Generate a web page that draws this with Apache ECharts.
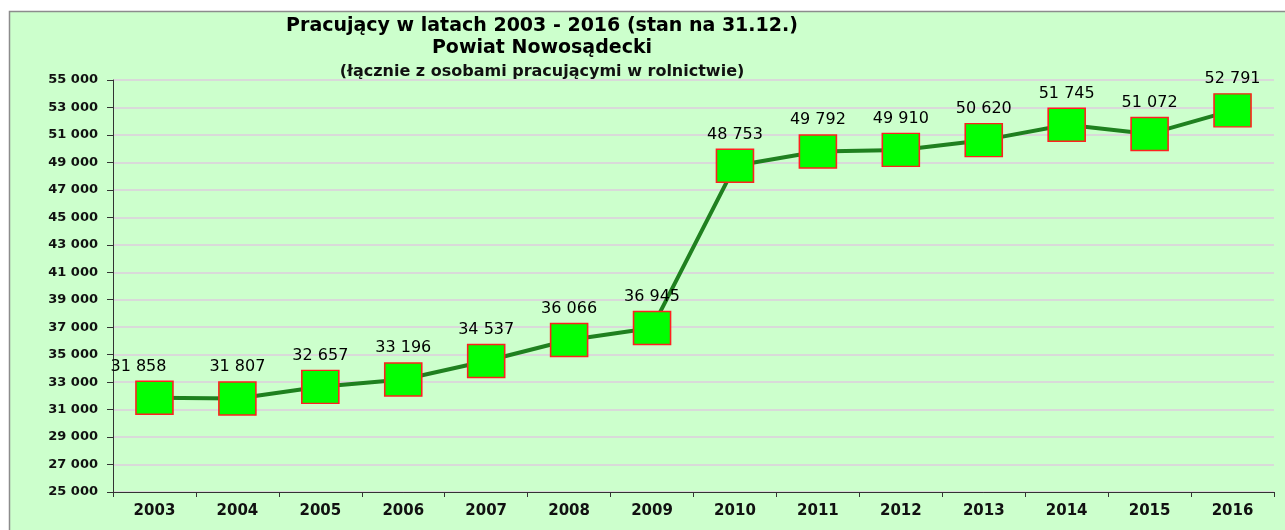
<!DOCTYPE html>
<html>
<head>
<meta charset="utf-8">
<title>Pracujący w latach 2003 - 2016</title>
<script src="https://cdn.jsdelivr.net/npm/echarts@6/dist/echarts.min.js"></script>
<style>
  html, body { margin: 0; padding: 0; background: #fff; }
  #main { width: 1285px; height: 530px; }
</style>
</head>
<body>
<div id="main"></div>
<script>
// data
const years = ['2003', '2004', '2005', '2006', '2007', '2008', '2009',
  '2010', '2011', '2012', '2013', '2014', '2015', '2016'];
const workers = [31858, 31807, 32657, 33196, 34537, 36066, 36945,
  48753, 49792, 49910, 50620, 51745, 51072, 52791];
const yMin = 25000;
const yMax = 55000;
const yStep = 2000;

const FONT = '"DejaVu Sans", Arial, sans-serif';

// "31 858" style numbers
function fmt(v) {
  return String(v).replace(/\B(?=(\d{3})+(?!\d))/g, ' ');
}

const chart = echarts.init(document.getElementById('main'));

chart.setOption({
  backgroundColor: '#ffffff',
  animation: false,
  graphic: [
    {
      type: 'rect',
      z: -10,
      shape: { x: 9.5, y: 11.5, width: 1290, height: 530 },
      style: { fill: '#ccffcc', stroke: '#8c8c8c', lineWidth: 1.5 }
    }
  ],
  title: [
    {
      text: 'Pracujący w latach 2003 - 2016 (stan na 31.12.)',
      left: 537, top: 12, textAlign: 'center',
      textStyle: { fontFamily: FONT, fontSize: 19, fontWeight: 'bold', color: '#000' }
    },
    {
      text: 'Powiat Nowosądecki',
      left: 537, top: 34, textAlign: 'center',
      textStyle: { fontFamily: FONT, fontSize: 19, fontWeight: 'bold', color: '#000' }
    },
    {
      text: '(łącznie z osobami pracującymi w rolnictwie)',
      left: 537, top: 59, textAlign: 'center',
      textStyle: { fontFamily: FONT, fontSize: 16, fontWeight: 'bold', color: '#111' }
    }
  ],
  grid: { left: 113, right: 11, top: 80, bottom: 38 },
  xAxis: {
    type: 'category',
    data: years,
    boundaryGap: true,
    axisLine: { lineStyle: { color: '#333', width: 1 } },
    axisTick: { show: true, length: 5, lineStyle: { color: '#333' } },
    axisLabel: {
      margin: 12,
      fontFamily: FONT, fontSize: 15, fontWeight: 'bold', color: '#111'
    },
    splitLine: { show: false }
  },
  yAxis: {
    type: 'value',
    min: yMin,
    max: yMax,
    interval: yStep,
    axisLine: { show: true, lineStyle: { color: '#333', width: 1 } },
    axisTick: { show: true, length: 6, lineStyle: { color: '#333' } },
    axisLabel: {
      margin: 15,
      fontFamily: FONT, fontSize: 13, fontWeight: 'bold', color: '#111',
      formatter: fmt
    },
    splitLine: { show: true, lineStyle: { color: '#d9d9d9', width: 2 } }
  },
  series: [
    {
      type: 'line',
      data: workers.map(function (v, i) {
        return i === 0 ? { value: v, label: { offset: [-16, 0] } } : v;
      }),
      lineStyle: { color: '#1f801f', width: 4 },
      symbol: 'rect',
      symbolSize: [37, 33],
      itemStyle: { color: '#00ff00', borderColor: '#ff2020', borderWidth: 1.5 },
      label: {
        show: true,
        position: 'top',
        distance: 6,
        fontFamily: FONT, fontSize: 16, color: '#000',
        formatter: function (p) { return fmt(p.value); }
      }
    }
  ]
});
</script>
</body>
</html>
